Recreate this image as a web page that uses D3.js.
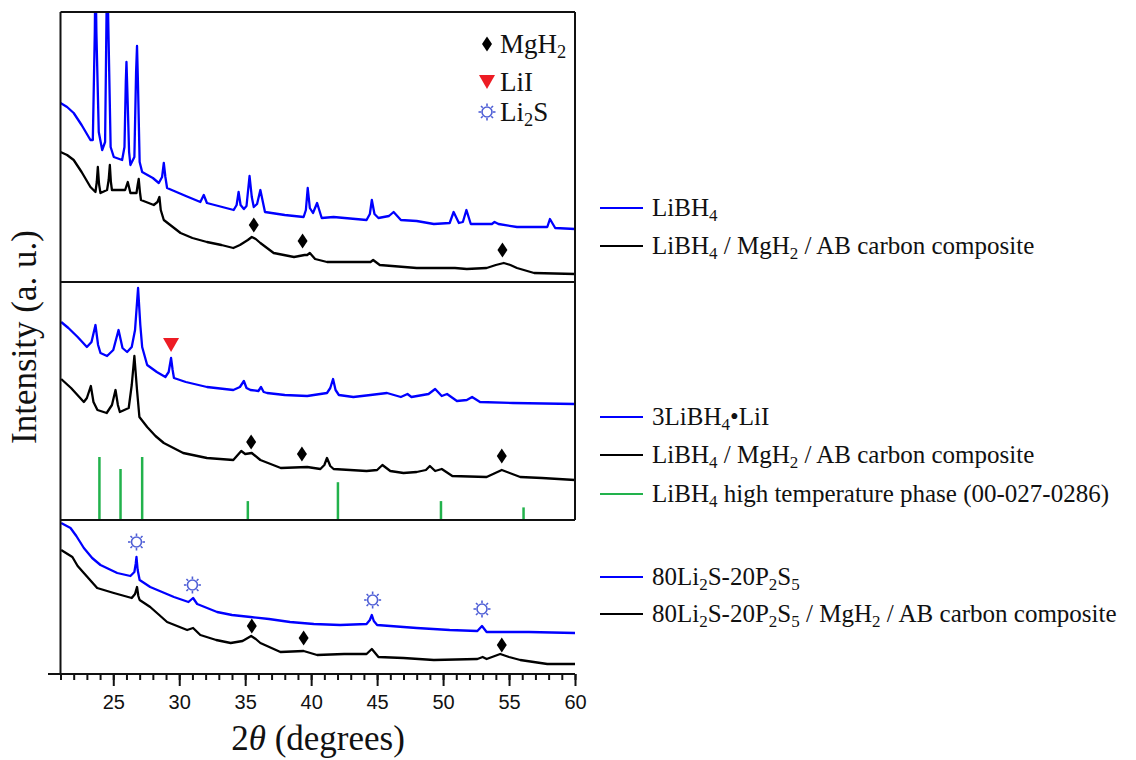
<!DOCTYPE html>
<html>
<head>
<meta charset="utf-8">
<script src="https://cdn.jsdelivr.net/npm/d3@7/dist/d3.min.js"></script>
<style>
  body { margin: 0; background: #fff; }
  svg { display: block; }
</style>
</head>
<body>
<div id="chart"></div>
<script>
// ---------- data (2θ in degrees, intensity in a.u. above each panel's floor) ----------

// panel 1
const libh4Angle = [21.0, 21.5, 22.0, 22.6, 23.27, 23.45, 23.6, 23.65, 23.72, 23.9, 24.16, 24.38, 24.5, 24.55, 24.62, 24.8, 25.04, 25.67, 25.85, 25.95, 26.0, 26.07, 26.2, 26.3, 26.6, 26.73, 26.8, 26.87, 27.0, 27.19, 28.0, 28.45, 28.7, 28.83, 28.95, 29.08, 30.5, 31.6, 31.86, 32.1, 34.13, 34.35, 34.5, 34.65, 34.9, 35.1, 35.33, 35.5, 35.65, 35.9, 36.15, 36.5, 38.0, 39.43, 39.6, 39.74, 39.9, 40.14, 40.45, 40.8, 41.7, 44.2, 44.45, 44.6, 44.8, 45.1, 45.9, 46.25, 46.8, 48.0, 49.3, 50.5, 50.8, 51.2, 51.5, 51.77, 52.1, 53.7, 53.9, 54.2, 55.6, 57.9, 58.1, 58.5, 60.0];
const libh4Int   = [179, 175, 169, 157, 142, 142, 250, 320, 250, 150, 132, 140, 280, 320, 260, 135, 125, 122, 135, 200, 220, 190, 130, 117, 125, 210, 236, 200, 120, 110, 104, 99, 105, 119, 105, 94, 86, 80, 87, 79, 72, 77, 90, 77, 73, 76, 106, 85, 75, 78, 92, 70, 67, 65, 72, 94, 74, 69, 79, 64, 65, 62, 68, 82, 68, 64, 66, 70, 62, 61, 58, 59, 70, 59, 60, 72, 58, 58, 60, 58, 55, 55, 63, 54, 53];

const comp1Angle = [21.0, 21.5, 22.0, 22.6, 23.27, 23.65, 23.75, 23.83, 23.92, 24.03, 24.53, 24.65, 24.74, 24.82, 24.9, 25.5, 25.9, 26.1, 26.3, 26.76, 26.85, 26.93, 27.02, 27.1, 28.07, 28.35, 28.5, 28.6, 28.83, 30.1, 31.0, 32.1, 33.2, 34.1, 34.6, 35.2, 35.5, 35.8, 36.15, 37.16, 38.7, 39.5, 39.7, 39.9, 40.3, 41.2, 43.0, 44.5, 44.7, 45.2, 48.0, 50.9, 51.8, 53.3, 54.0, 54.6, 55.1, 55.6, 56.9, 60.0];
const comp1Int   = [130, 127, 122, 110, 95, 90, 100, 115, 98, 89, 92, 102, 117, 100, 92, 92, 92, 100, 89, 89, 97, 103, 90, 82, 77, 80, 85, 72, 62, 49, 44, 40, 37, 34, 37, 42, 45, 43, 39, 29, 25, 27, 27, 29, 23, 20, 20, 20, 22, 17, 14, 14, 13, 14, 17, 19, 17, 14, 9, 8];

// panel 2
const lilAngle = [21.05, 21.6, 22.3, 23.0, 23.35, 23.65, 23.85, 24.03, 24.53, 25.0, 25.4, 25.7, 26.05, 26.4, 26.65, 26.88, 27.05, 27.19, 27.57, 28.3, 28.95, 29.2, 29.38, 29.5, 29.6, 30.5, 32.1, 34.1, 34.6, 34.9, 35.1, 35.4, 36.0, 36.2, 36.4, 36.66, 38.0, 39.7, 41.2, 41.45, 41.66, 41.85, 42.1, 43.2, 44.5, 45.75, 46.8, 47.3, 47.6, 48.9, 49.4, 49.9, 50.3, 51.05, 51.8, 52.2, 52.8, 55.3, 60.0];
const lilInt   = [198, 192, 183, 173, 178, 195, 175, 167, 164, 170, 190, 172, 168, 173, 190, 232, 195, 173, 155, 148, 143, 148, 162, 150, 142, 138, 133, 130, 133, 139, 132, 130, 129, 133, 128, 127, 125, 124, 127, 132, 141, 130, 125, 123, 125, 127, 123, 126, 123, 126, 131, 124, 126, 119, 120, 123, 118, 117, 116];

const comp2Angle = [21.05, 21.8, 22.77, 23.0, 23.3, 23.5, 23.8, 24.5, 24.9, 25.17, 25.35, 25.5, 26.17, 26.4, 26.6, 26.8, 26.98, 27.57, 28.2, 28.83, 30.3, 32.1, 34.1, 34.7, 35.0, 35.5, 36.15, 37.7, 39.7, 40.7, 41.0, 41.2, 41.45, 41.7, 44.2, 45.0, 45.4, 46.0, 47.0, 48.0, 48.7, 49.0, 49.4, 49.9, 50.7, 53.3, 54.45, 55.85, 57.5, 60.0];
const comp2Int   = [141, 132, 118, 122, 134, 118, 110, 107, 115, 130, 115, 108, 112, 135, 164, 130, 103, 93, 84, 77, 67, 62, 60, 69, 66, 67, 60, 52, 53, 51, 55, 62, 54, 51, 49, 50, 55, 49, 47, 48, 50, 54, 49, 51, 44, 43, 50, 43, 42, 40];

// LiBH4 high temperature phase reference (00-027-0286), relative intensity
const refAngle = [23.95, 25.55, 27.19, 35.2, 42.03, 49.84, 56.1];
const refRel   = [100, 81, 100, 30, 60, 30, 20];

// panel 3
const lpsAngle = [21.05, 21.76, 22.2, 22.77, 23.4, 24.03, 25.3, 26.3, 26.6, 26.7, 26.76, 26.85, 27.0, 27.8, 28.7, 29.6, 30.7, 31.05, 31.36, 32.87, 34.0, 35.4, 36.8, 38.4, 40.2, 42.2, 44.2, 44.45, 44.6, 44.75, 45.0, 48.0, 50.5, 52.6, 52.95, 53.3, 56.5, 60.0];
const lpsInt   = [151, 146, 138, 126, 116, 109, 101, 98, 102, 110, 117, 104, 94, 87, 82, 77, 72, 76, 70, 62, 59, 57, 55, 52, 50, 49, 50, 54, 59, 53, 49, 46, 44, 43, 48, 42, 42, 41];

const comp3Angle = [21.05, 21.9, 22.3, 22.77, 23.78, 25.04, 26.4, 26.65, 26.8, 26.9, 27.0, 27.8, 28.4, 29.08, 30.6, 31.05, 31.6, 32.8, 33.9, 34.8, 35.45, 35.8, 36.15, 37.67, 39.43, 40.45, 42.5, 44.2, 44.6, 45.1, 47.0, 49.3, 52.6, 53.0, 53.3, 54.33, 55.0, 55.85, 57.9, 60.0];
const comp3Int   = [124, 117, 108, 101, 86, 81, 76, 80, 87, 78, 74, 67, 60, 52, 44, 46, 39, 34, 31, 33, 38, 35, 31, 22, 23, 19, 20, 20, 25, 17, 16, 14, 15, 17, 15, 20, 17, 14, 10, 10];

// phase markers
const mgh2Angle1 = [35.65, 39.35, 54.5],  mgh2Int1 = [57, 41, 32];
const mgh2Angle2 = [35.45, 39.3, 54.45],  mgh2Int2 = [78, 66, 64];
const mgh2Angle3 = [35.5, 39.43, 54.45],  mgh2Int3 = [48, 36, 29];
const liiAngle = [29.38], liiInt = [175];
const li2sAngle = [26.76, 31.0, 44.66, 52.95], li2sInt = [132, 89, 74, 65];

// legends and ticks
const legend1Labels = ['LiBH_4', 'LiBH_4 / MgH_2 / AB carbon composite'];
const legend2Labels = ['3LiBH_4•LiI', 'LiBH_4 / MgH_2 / AB carbon composite', 'LiBH_4 high temperature phase (00-027-0286)'];
const legend3Labels = ['80Li_2S-20P_2S_5', '80Li_2S-20P_2S_5 / MgH_2 / AB carbon composite'];
const markerLabels = ['MgH_2', 'LiI', 'Li_2S'];
const majorTicks = [25, 30, 35, 40, 45, 50, 55, 60];

// ---------- chart ----------
let blue = '#0000ff', black = '#000000', green = '#22b24c', red = '#ed1c24', sunBlue = '#4f5fd6';
let serif = '"Liberation Serif", "Times New Roman", serif';
let sans = '"Liberation Sans", Arial, sans-serif';

let left = 60.5, right = 575;
let panels = [
    { top: 12, bottom: 282 },
    { top: 282, bottom: 520 },
    { top: 520, bottom: 674 }
];

let svg = d3.select('#chart')
    .append('svg')
    .attr('width', 1136)
    .attr('height', 760);

let xScale = d3.scaleLinear().domain([21, 60]).range([left, right]);

// one y scale per panel, intensity measured from the panel floor
panels.forEach(function (p, i) {
    p.y = d3.scaleLinear().domain([0, p.bottom - p.top]).range([p.bottom, p.top]);
    svg.append('clipPath').attr('id', 'clip' + i)
        .append('rect')
        .attr('x', left).attr('y', p.top)
        .attr('width', right - left).attr('height', p.bottom - p.top);
});

function drawTrace(panelIndex, angles, values, color) {
    let p = panels[panelIndex];
    let line = d3.line()
        .x(function (d) { return xScale(d); })
        .y(function (d, i) { return p.y(values[i]); });
    svg.append('path')
        .attr('clip-path', 'url(#clip' + panelIndex + ')')
        .attr('fill', 'none')
        .attr('stroke', color)
        .attr('stroke-width', 2.3)
        .attr('stroke-linejoin', 'round')
        .attr('d', line(angles));
}

drawTrace(0, libh4Angle, libh4Int, blue);
drawTrace(0, comp1Angle, comp1Int, black);
drawTrace(1, lilAngle, lilInt, blue);
drawTrace(1, comp2Angle, comp2Int, black);
drawTrace(2, lpsAngle, lpsInt, blue);
drawTrace(2, comp3Angle, comp3Int, black);

// reference sticks
let stickScale = d3.scaleLinear().domain([0, 100]).range([panels[1].bottom, panels[1].bottom - 63]);
svg.selectAll('.stick')
    .data(refAngle)
    .enter().append('line')
    .attr('class', 'stick')
    .attr('x1', function (d) { return xScale(d); })
    .attr('x2', function (d) { return xScale(d); })
    .attr('y1', stickScale(0))
    .attr('y2', function (d, i) { return stickScale(refRel[i]); })
    .attr('stroke', green)
    .attr('stroke-width', 2.5);

// marker shapes
let diamondPath = 'M0,-7.5L5,0L0,7.5L-5,0Z';
let trianglePath = 'M-8,-7L8,-7L0,7Z';

function drawSun(g) {
    g.append('circle').attr('r', 5).attr('fill', 'none').attr('stroke', sunBlue).attr('stroke-width', 1.6);
    d3.range(8).forEach(function (k) {
        let a = k * Math.PI / 4;
        g.append('line')
            .attr('x1', 6 * Math.cos(a)).attr('y1', 6 * Math.sin(a))
            .attr('x2', 8.5 * Math.cos(a)).attr('y2', 8.5 * Math.sin(a))
            .attr('stroke', sunBlue).attr('stroke-width', 1.6);
    });
}

function drawMarkers(panelIndex, angles, values, kind) {
    let p = panels[panelIndex];
    angles.forEach(function (a, i) {
        let g = svg.append('g')
            .attr('transform', 'translate(' + xScale(a) + ',' + p.y(values[i]) + ')');
        if (kind === 'diamond') g.append('path').attr('d', diamondPath).attr('fill', black);
        if (kind === 'triangle') g.append('path').attr('d', trianglePath).attr('fill', red);
        if (kind === 'sun') drawSun(g);
    });
}

drawMarkers(0, mgh2Angle1, mgh2Int1, 'diamond');
drawMarkers(1, mgh2Angle2, mgh2Int2, 'diamond');
drawMarkers(2, mgh2Angle3, mgh2Int3, 'diamond');
drawMarkers(1, liiAngle, liiInt, 'triangle');
drawMarkers(2, li2sAngle, li2sInt, 'sun');

// frame
let frame = svg.append('g').attr('stroke', '#111').attr('stroke-width', 2).attr('fill', 'none');
frame.append('line').attr('x1', left).attr('x2', right).attr('y1', 12).attr('y2', 12);
frame.append('line').attr('x1', left).attr('x2', left).attr('y1', 12).attr('y2', 674);
frame.append('line').attr('x1', right).attr('x2', right).attr('y1', 12).attr('y2', 520);
frame.append('line').attr('x1', left).attr('x2', right).attr('y1', 282).attr('y2', 282);
frame.append('line').attr('x1', left).attr('x2', right).attr('y1', 520).attr('y2', 520);
frame.append('line').attr('x1', 48).attr('x2', right).attr('y1', 674).attr('y2', 674);

// x axis: minor ticks every degree, major every 5
let minorAxis = d3.axisBottom(xScale).tickValues(d3.range(21, 61)).tickSize(6).tickFormat('');
let majorAxis = d3.axisBottom(xScale).tickValues(majorTicks).tickSize(12).tickPadding(9);

let minorNode = svg.append('g').attr('transform', 'translate(0,674)').call(minorAxis);
let majorNode = svg.append('g').attr('transform', 'translate(0,674)').call(majorAxis);
[minorNode, majorNode].forEach(function (n) {
    n.select('.domain').remove();
    n.selectAll('line').attr('stroke', '#111').attr('stroke-width', 2);
});
majorNode.selectAll('text')
    .attr('fill', '#111')
    .style('font-family', sans)
    .style('font-size', '20px');

// text with _n subscripts
function richText(textSel, str, size) {
    let shift = 0;
    str.split(/_(\d)/).forEach(function (part, i) {
        if (!part) return;
        let t = textSel.append('tspan').text(part);
        if (i % 2 === 1) {
            shift = size * 0.2;
            t.attr('font-size', size * 0.68).attr('dy', shift);
        } else if (shift) {
            t.attr('dy', -shift);
            shift = 0;
        }
    });
}

// axis titles
let xTitle = svg.append('text')
    .attr('x', 318).attr('y', 750)
    .attr('text-anchor', 'middle')
    .style('font-family', serif).style('font-size', '35px').attr('fill', '#111');
xTitle.append('tspan').text('2');
xTitle.append('tspan').style('font-style', 'italic').text('θ');
xTitle.append('tspan').text(' (degrees)');

svg.append('text')
    .attr('transform', 'translate(36,337) rotate(-90)')
    .attr('text-anchor', 'middle')
    .style('font-family', serif).style('font-size', '35px').attr('fill', '#111')
    .text('Intensity (a. u.)');

// series legends on the right
function drawLegend(labels, colors, rowsY) {
    labels.forEach(function (label, i) {
        svg.append('line')
            .attr('x1', 600).attr('x2', 643)
            .attr('y1', rowsY[i]).attr('y2', rowsY[i])
            .attr('stroke', colors[i]).attr('stroke-width', 2);
        let t = svg.append('text')
            .attr('x', 652).attr('y', rowsY[i] + 8)
            .style('font-family', serif).style('font-size', '25px').attr('fill', '#111');
        richText(t, label, 25);
    });
}

drawLegend(legend1Labels, [blue, black], [208, 246]);
drawLegend(legend2Labels, [blue, black, green], [417, 455, 494]);
drawLegend(legend3Labels, [blue, black], [577, 614]);

// phase marker key in the first panel
let keyY = [44, 82, 112];
let keyKinds = ['diamond', 'triangle', 'sun'];
markerLabels.forEach(function (label, i) {
    let g = svg.append('g').attr('transform', 'translate(487,' + keyY[i] + ')');
    if (keyKinds[i] === 'diamond') g.append('path').attr('d', diamondPath).attr('fill', black);
    if (keyKinds[i] === 'triangle') g.append('path').attr('d', trianglePath).attr('fill', red);
    if (keyKinds[i] === 'sun') drawSun(g);
    let t = svg.append('text')
        .attr('x', 500).attr('y', keyY[i] + 9)
        .style('font-family', serif).style('font-size', '27px').attr('fill', '#111');
    richText(t, label, 27);
});
</script>
</body>
</html>
